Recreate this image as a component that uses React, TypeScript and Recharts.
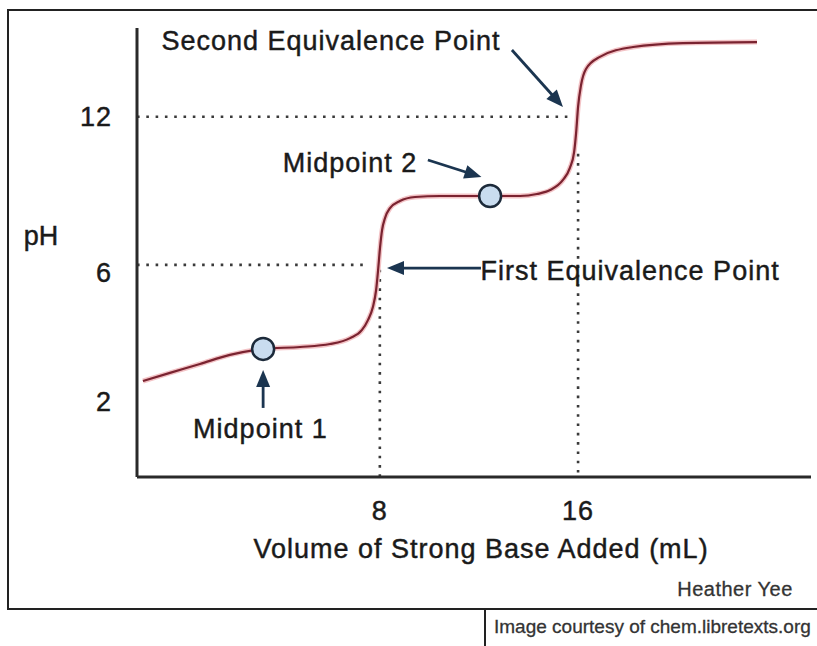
import { ComposedChart, Line, Scatter, XAxis, YAxis, ReferenceLine, ReferenceDot, Label } from 'recharts';

// titration curve (volume in mL, pH)
const volume = [-1.56, -0.47, 0.74, 1.95, 3.29, 4.78, 5.99, 6.8, 7.28, 7.52, 7.72, 7.85, 7.93, 8.01, 8.09, 8.21, 8.41, 8.81, 9.42, 10.43, 12.45, 13.66, 14.34, 14.87, 15.39, 15.67, 15.84, 15.92, 16.0, 16.12, 16.32, 16.88, 18.22, 20.23, 23.22];
const ph = [1.29, 1.62, 1.98, 2.35, 2.59, 2.67, 2.79, 3.03, 3.36, 3.76, 4.29, 4.98, 5.79, 6.72, 7.41, 7.9, 8.3, 8.59, 8.75, 8.79, 8.79, 8.79, 8.87, 9.03, 9.44, 9.93, 10.57, 11.34, 12.4, 13.29, 13.94, 14.43, 14.83, 14.99, 15.03];

const midVolume = [3.29, 12.45];
const midPh = [2.59, 8.79];

const xTicks = [8, 16];
const yTickPositions = [0.45, 5.65, 12];
const yTickLabels = ['2', '6', '12'];

// dotted guide lines: [x1, y1, x2, y2]
const guides = [
  [-1.8, 12, 15.7, 12],
  [-1.8, 6, 7.55, 6],
  [8, 5.8, 8, -2.6],
  [16, 10.5, 16, -2.6],
];

// annotation arrows: [fromX, fromY, toX, toY]
const arrows = [
  [13.33, 14.71, 15.39, 12.4],
  [9.94, 10.25, 12.1, 9.56],
  [12.08, 5.87, 8.29, 5.87],
  [3.29, 0.2, 3.29, 1.74],
];

const notes = [
  { text: 'Second Equivalence Point', x: 6.03, y: 15.07 },
  { text: 'Midpoint 2', x: 6.8, y: 10.11 },
  { text: 'First Equivalence Point', x: 18.1, y: 5.75 },
  { text: 'Midpoint 1', x: 3.18, y: -0.65 },
];

const curve = volume.map((v, i) => ({ x: v, y: ph[i] }));
const midpoints = midVolume.map((v, i) => ({ x: v, y: midPh[i] }));

const FONT = '"Liberation Sans", Arial, Helvetica, sans-serif';
const INK = '#1a1a1a';
const NAVY = '#1b3550';

const Arrow = (p: any) => {
  const { x1, y1, x2, y2 } = p;
  const a = Math.atan2(y2 - y1, x2 - x1);
  const L = 17, W = 7;
  const bx = x2 - L * Math.cos(a), by = y2 - L * Math.sin(a);
  const pts = `${x2},${y2} ${bx - W * Math.sin(a)},${by + W * Math.cos(a)} ${bx + W * Math.sin(a)},${by - W * Math.cos(a)}`;
  return (
    <g>
      <line x1={x1} y1={y1} x2={bx + 2 * Math.cos(a)} y2={by + 2 * Math.sin(a)} stroke={NAVY} strokeWidth={2.8} />
      <polygon points={pts} fill={NAVY} />
    </g>
  );
};

const txt = { fontFamily: FONT, fontSize: 27, letterSpacing: 1, fill: INK, stroke: INK, strokeWidth: 0.45 };

const Note = (text: string) => (p: any) => (
  <text x={p.cx} y={p.cy} textAnchor="middle" dominantBaseline="central" {...txt}>
    {text}
  </text>
);

const Bubble = (p: any) => (
  <circle cx={p.cx} cy={p.cy} r={11} fill="#c9dcef" stroke="#1c2a3a" strokeWidth={2.5} />
);

const XTick = (p: any) => (
  <text x={p.x} y={p.y + 43} textAnchor="middle" {...txt}>
    {p.payload.value}
  </text>
);

const YTick = (p: any) => (
  <text x={p.x - 25} y={p.y} textAnchor="end" dominantBaseline="central" {...txt}>
    {yTickLabels[yTickPositions.indexOf(p.payload.value)]}
  </text>
);

const bar = (left: number, top: number, width: number, height: number) => (
  <div style={{ position: 'absolute', left, top, width, height, background: '#222' }} />
);

export default function App() {
  return (
    <div style={{ position: 'absolute', left: 0, top: 0, width: 817, height: 646, background: '#fff', overflow: 'hidden' }}>
      {bar(7, 9, 810, 2)}
      {bar(7, 9, 2, 601)}
      {bar(7, 608, 810, 2)}
      {bar(484, 609, 2, 37)}
      <div style={{ position: 'absolute', left: 640, top: 578, width: 190, textAlign: 'center', fontFamily: FONT, fontSize: 20, letterSpacing: 0.5, color: '#333', WebkitTextStroke: '0.3px #333' }}>
        Heather Yee
      </div>
      <div style={{ position: 'absolute', left: 494, top: 616, fontFamily: FONT, fontSize: 19, color: '#333', whiteSpace: 'nowrap', WebkitTextStroke: '0.3px #333' }}>
        Image courtesy of chem.libretexts.org
      </div>
      <div style={{ position: 'absolute', left: 0, top: 0 }}>
        <ComposedChart width={817} height={646} data={curve} margin={{ top: 28, right: 6, bottom: 0, left: 0 }}>
          <XAxis
            type="number"
            dataKey="x"
            domain={[-1.8, 25.4]}
            ticks={xTicks}
            height={169}
            tickSize={0}
            tickMargin={0}
            tickLine={false}
            tick={<XTick />}
            axisLine={{ stroke: '#2a2a2a', strokeWidth: 3 }}
            allowDataOverflow
          >
            <Label
              content={(p: any) => (
                <text x={481} y={p.viewBox.y + 72} textAnchor="middle" dominantBaseline="central" {...txt}>
                  Volume of Strong Base Added (mL)
                </text>
              )}
            />
          </XAxis>
          <YAxis
            type="number"
            dataKey="y"
            domain={[-2.6, 15.6]}
            ticks={yTickPositions}
            width={137}
            tickSize={0}
            tickMargin={0}
            tickLine={false}
            tick={<YTick />}
            axisLine={{ stroke: '#2a2a2a', strokeWidth: 3 }}
            allowDataOverflow
          >
            <Label
              content={(p: any) => (
                <text x={41} y={p.viewBox.y + 208} textAnchor="middle" dominantBaseline="central" {...txt} letterSpacing={0}>
                  pH
                </text>
              )}
            />
          </YAxis>
          {guides.map((g, i) => (
            <ReferenceLine
              key={'g' + i}
              segment={[{ x: g[0], y: g[1] }, { x: g[2], y: g[3] }]}
              stroke="#3a3a3a"
              strokeWidth={2.6}
              strokeDasharray="2.6 6.7"
            />
          ))}
          <Line dataKey="y" type="monotone" stroke="#f3c3c6" strokeWidth={5} dot={false} isAnimationActive={false} />
          <Line dataKey="y" type="monotone" stroke="#7a2330" strokeWidth={2.2} dot={false} isAnimationActive={false} />
          <Scatter data={midpoints} dataKey="y" shape={Bubble} isAnimationActive={false} />
          {arrows.map((a, i) => (
            <ReferenceLine key={'a' + i} segment={[{ x: a[0], y: a[1] }, { x: a[2], y: a[3] }]} shape={Arrow} />
          ))}
          {notes.map((n) => (
            <ReferenceDot key={n.text} x={n.x} y={n.y} r={0} shape={Note(n.text)} />
          ))}
        </ComposedChart>
      </div>
    </div>
  );
}
